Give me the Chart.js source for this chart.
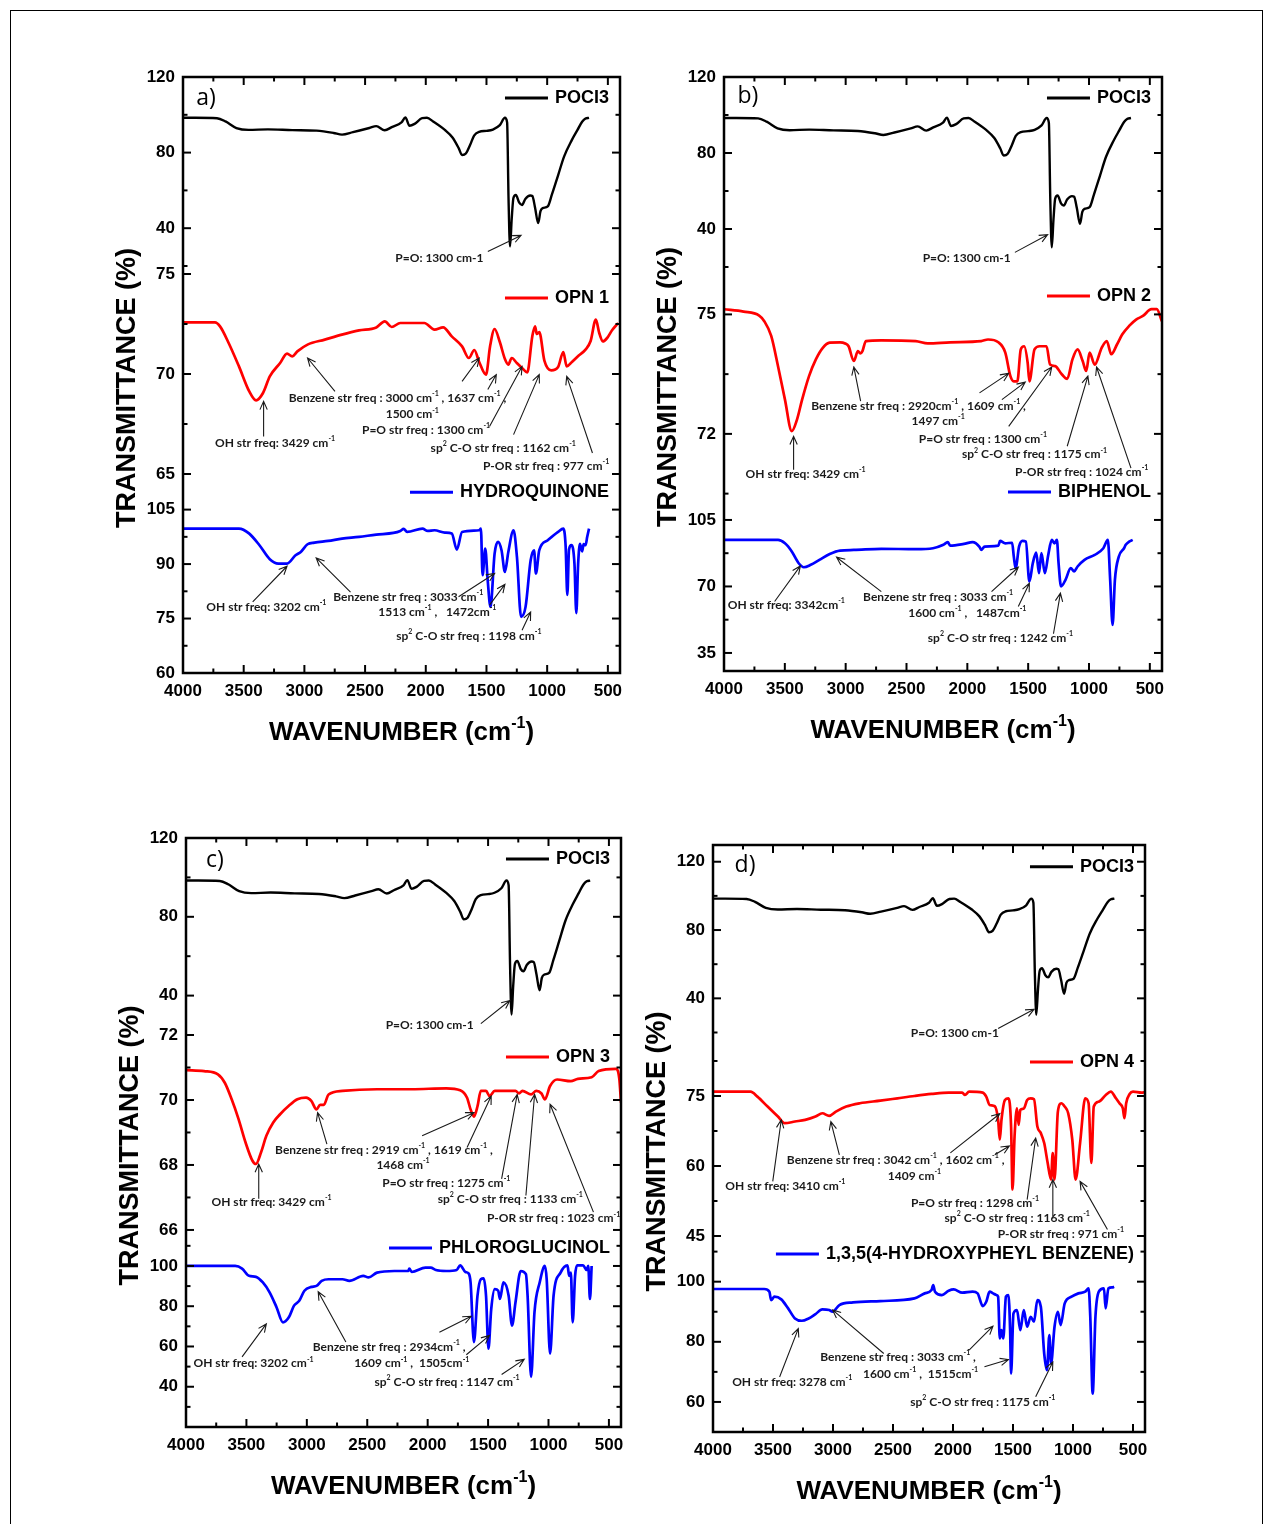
<!DOCTYPE html>
<html lang="en">
<head>
<meta charset="UTF-8">
<title>FTIR spectra of OPN 1-4</title>
<script src="https://cdn.jsdelivr.net/npm/chart.js"></script>
<style>
  body { margin: 0; background: #fff; overflow: hidden; }
  #frame { position: absolute; left: 10px; top: 10px; width: 1253px; height: 1530px; border: 1.5px solid #000; box-sizing: border-box; }
  canvas { position: absolute; }
</style>
</head>
<body>
<div id="frame"></div>
<canvas id="pa"></canvas>
<canvas id="pb"></canvas>
<canvas id="pc"></canvas>
<canvas id="pd"></canvas>
<script>
// wavenumber (cm-1) tick labels
const X_TICKS = [4000, 3500, 3000, 2500, 2000, 1500, 1000, 500];

// [wavenumber, transmittance %]
const POCL3 = [[4000,98.4],[3900,98.4],[3720,98.2],[3650,96.5],[3560,93],[3460,92],[3300,92.3],[3100,91.9],[2900,91.6],[2760,90.4],[2690,89.5],[2600,90.8],[2465,93],[2408,94],[2338,91.8],[2280,93.5],[2200,96],[2168,98.6],[2134,94.2],[2092,95.2],[2030,98.2],[1990,98.4],[1940,96.5],[1843,92],[1780,88],[1730,82.5],[1701,78.7],[1670,79.5],[1635,84],[1602,89],[1560,91],[1500,91.5],[1447,92.2],[1390,94.5],[1348,98.4],[1330,96],[1318,55],[1306,30.4],[1292,45],[1278,56],[1258,57.6],[1230,53.5],[1207,52.3],[1180,55.5],[1140,57.3],[1122,57],[1100,51],[1074,42.7],[1055,49],[1037,50.6],[995,51.5],[960,58],[910,68],[860,78],[797,86.6],[750,92],[712,96.3],[684,98],[655,98.4]];

const OPN1 = [[4000,72.58],[3737,72.58],[3695,72.38],[3624,71.55],[3539,70.38],[3454,69.13],[3398,68.68],[3341,69.05],[3285,69.88],[3200,70.55],[3143,71.02],[3100,70.88],[3058,71.13],[2974,71.47],[2832,71.72],[2691,71.97],[2550,72.18],[2408,72.33],[2338,72.63],[2281,72.35],[2210,72.55],[2012,72.55],[1928,72.22],[1857,72.33],[1786,71.88],[1701,71.38],[1645,70.8],[1600,71.2],[1560,70.6],[1504,69.97],[1470,71.4],[1433,72.25],[1390,71.6],[1348,70.75],[1320,70.47],[1292,70.8],[1250,70.55],[1207,70.3],[1164,70.08],[1122,71.9],[1100,72.38],[1085,72.0],[1065,72.1],[1023,70.67],[966,70.18],[910,70.35],[867,71.1],[839,70.38],[796,70.6],[740,70.92],[684,71.22],[642,71.65],[599,72.72],[571,72.05],[542,71.63],[506,71.8],[464,72.2],[415,72.55]];

const HYDROQUINONE = [[4000,99.77],[3539,99.77],[3454,98.39],[3370,95.18],[3285,91.33],[3214,90.14],[3143,90.14],[3073,92.43],[3030,93.35],[2974,95.46],[2917,95.92],[2804,96.38],[2690,97.02],[2550,97.48],[2408,98.12],[2267,98.58],[2210,99.13],[2182,99.68],[2154,98.85],[2027,99.77],[1984,99.13],[1928,99.31],[1843,98.67],[1786,98.39],[1744,93.99],[1701,98.85],[1560,99.31],[1546,99.77],[1532,86.93],[1510,94.27],[1490,85.55],[1467,78.21],[1433,92.89],[1405,96.1],[1376,93.81],[1348,87.84],[1320,93.35],[1277,99.31],[1249,91.97],[1215,75.46],[1178,78.21],[1136,91.06],[1108,93.81],[1093,87.39],[1065,93.81],[995,96.56],[910,98.85],[867,99.77],[848,95],[834,81.5],[820,94],[800,95.2],[775,90],[760,76.5],[745,90],[730,95.6],[712,93.5],[700,95.5],[684,95.2],[670,97.5],[655,99.77]];

const OPN2 = [[4000,75.13],[3839,75.07],[3711,74.97],[3669,74.83],[3612,74.46],[3556,73.7],[3499,72.86],[3443,72.07],[3400,72.36],[3358,72.86],[3301,73.45],[3245,73.87],[3188,74.16],[3131,74.29],[3046,74.3],[3004,74.27],[2976,74.2],[2933,73.83],[2899,74.08],[2880,74.02],[2862,74.08],[2834,74.33],[2707,74.35],[2424,74.33],[2325,74.27],[2141,74.3],[1886,74.33],[1830,74.37],[1745,74.3],[1688,74.04],[1646,73.45],[1618,73.32],[1589,73.32],[1561,74.12],[1533,74.2],[1504,73.78],[1490,73.32],[1448,74.12],[1405,74.2],[1349,74.2],[1320,73.74],[1278,73.7],[1222,73.49],[1179,73.38],[1136,73.87],[1094,74.12],[1052,73.83],[1023,73.58],[995,74.04],[953,73.74],[896,74.16],[854,74.33],[817,74.0],[769,74.25],[726,74.5],[670,74.71],[613,74.87],[557,74.96],[486,75.13],[443,75.13],[401,74.83]];

const BIPHENOL = [[4000,94.5],[3556,94.5],[3499,92.7],[3443,88.4],[3386,82.2],[3344,80.1],[3287,81.4],[3216,84],[3131,87.1],[3046,88.9],[2933,89.2],[2707,89.8],[2424,89.6],[2282,90.1],[2197,91.9],[2161,93.3],[2141,91.5],[2028,92.4],[1957,93.3],[1900,90.8],[1886,89.2],[1858,91],[1745,91.5],[1731,94],[1688,92.7],[1632,93],[1618,85.7],[1603,79.6],[1575,91],[1547,94],[1519,93.6],[1490,72.6],[1462,82.2],[1434,87.8],[1411,77],[1391,87.5],[1363,77],[1335,86.6],[1306,94.5],[1284,92.7],[1264,94.5],[1250,82.2],[1230,70],[1193,73.5],[1150,79.6],[1122,77.9],[1094,80.5],[1037,84],[953,86.6],[882,90.1],[845,94.5],[826,73.5],[806,49.8],[787,73.5],[755,85.7],[712,90.1],[698,91.9],[670,93.6],[641,94.5]];

const OPN3 = [[4000,70.92],[3851,70.89],[3736,70.79],[3679,70.53],[3622,70.02],[3565,69.41],[3507,68.69],[3450,68.13],[3421,68.03],[3378,68.4],[3335,68.9],[3278,69.31],[3221,69.56],[3149,69.82],[3078,70.02],[3006,70.07],[2963,69.97],[2920,69.71],[2890,69.85],[2860,69.85],[2820,70.17],[2705,70.28],[2419,70.33],[2132,70.33],[1846,70.36],[1731,70.3],[1674,70.07],[1645,69.71],[1617,69.49],[1588,69.8],[1560,70.28],[1517,70.28],[1488,70.12],[1445,70.28],[1273,70.28],[1244,70.2],[1216,70.28],[1144,70.17],[1101,70.28],[1058,70.2],[1030,70.02],[987,70.43],[929,70.63],[815,70.58],[757,70.65],[643,70.7],[585,70.89],[442,70.96],[414,70.65],[400,69.92]];

const PHLOROGLUCINOL = [[4000,100],[3593,100],[3536,98.7],[3479,95.1],[3421,94.6],[3364,91.8],[3307,86.8],[3250,79.4],[3198,72],[3149,74.5],[3106,80.3],[3063,82.7],[3020,87.7],[2963,89.6],[2920,90.1],[2877,92.6],[2820,93.4],[2705,93.4],[2648,92.6],[2533,95.1],[2490,94.3],[2419,96.7],[2276,97.5],[2161,97.5],[2152,98.7],[2132,97],[2018,99.2],[1975,99.2],[1932,98],[1846,97.5],[1760,98],[1731,100.3],[1688,97],[1660,96.2],[1645,91.8],[1617,62.2],[1588,85],[1560,93.4],[1537,93.8],[1517,85.2],[1497,58.9],[1474,78.6],[1445,88.5],[1416,87.7],[1402,83.6],[1373,91.8],[1330,85.2],[1302,70.4],[1273,82],[1230,97.5],[1187,95.9],[1173,85.2],[1144,44.9],[1116,77],[1073,91.8],[1030,100],[1015,93.4],[987,56.4],[958,85.2],[900,96.7],[843,100.3],[829,95.1],[815,96.7],[800,72],[780,95.1],[763,100.3],[714,100.3],[685,98],[671,100],[657,83.6],[643,100]];

const OPN4 = [[4000,75.92],[3687,75.92],[3630,74.86],[3545,72.73],[3459,70.59],[3402,69.17],[3317,69.53],[3232,69.88],[3146,70.59],[3089,71.3],[3032,70.74],[2976,71.66],[2890,72.73],[2776,73.44],[2606,74],[2463,74.5],[2321,75],[2179,75.43],[2036,75.71],[1923,75.71],[1900,75.21],[1866,75.92],[1752,75.71],[1723,74.86],[1695,73.08],[1652,72.8],[1624,69.88],[1610,65.62],[1596,69.9],[1567,74.15],[1538,74.5],[1516,68.46],[1504,54.96],[1487,66.33],[1467,72.37],[1453,68.82],[1439,72.01],[1410,72.3],[1382,74.15],[1353,74.5],[1325,74.29],[1297,68.46],[1268,67.04],[1240,64.91],[1211,60.64],[1183,57.09],[1169,62.78],[1154,57.09],[1126,71.66],[1097,73.44],[1069,72.73],[1040,71.3],[1006,65.62],[978,57.09],[941,64.91],[898,74.5],[870,73.44],[847,60.64],[827,72.73],[784,73.79],[727,75.21],[685,75.92],[642,74.5],[613,73.44],[585,72.37],[571,70.24],[557,73.44],[528,75.43],[500,75.92],[429,75.71],[400,75.8]];

const TRIS_HPB = [[4000,97.56],[3573,97.56],[3530,96.67],[3516,93.89],[3488,95],[3431,94.11],[3374,91.11],[3317,87.78],[3260,87],[3203,87.78],[3146,89.22],[3089,90.78],[3032,90.56],[3004,90],[2947,92.22],[2833,93.11],[2606,93.56],[2321,94.44],[2236,96.11],[2179,97.22],[2165,98.89],[2150,96.67],[2093,95.56],[2036,97],[1994,97.44],[1923,96.33],[1837,96.67],[1795,96.11],[1752,91.89],[1723,93.33],[1695,96.67],[1666,96.11],[1638,95.56],[1624,95],[1610,81.11],[1596,83.89],[1581,81.11],[1559,95],[1538,95.56],[1524,83.89],[1516,69.44],[1496,89.44],[1467,90.56],[1439,83.89],[1410,90.56],[1382,85],[1353,88.33],[1325,86.67],[1297,93.89],[1268,91.67],[1240,76.11],[1217,70.56],[1197,82.22],[1183,72.78],[1154,85],[1126,90],[1103,85.56],[1069,92.78],[1012,95],[955,96.11],[898,96.67],[870,97.78],[856,88.33],[836,62.78],[813,88.33],[785,96.67],[742,97.78],[728,91.11],[705,97.78],[671,98.11],[657,98.33]];

const TICK_FONT = { family: "'Liberation Sans', Arial, sans-serif", weight: 'bold', size: 17 };
const AXIS_FAMILY = "'Liberation Sans', Arial, sans-serif";
const NOTE_FAMILY = "Lato, 'Open Sans', sans-serif";

// axis ids: yk = POCl3 (top), yr = OPN (middle), yb = phenol (bottom)
const panels = [
  {
    id: 'pa', area: [183, 77, 620, 673], letter: ['a)', 3810, 108.4],
    axes: [
      { id: 'yk', min: 20, max: 120, w: 189, ticks: [40, 80, 120] },
      { id: 'yr', min: 64.2, max: 75.4, w: 224, ticks: [65, 70, 75] },
      { id: 'yb', min: 60, max: 110.4, w: 183, ticks: [60, 75, 90, 105] }
    ],
    series: [
      { ax: 'yk', data: POCL3, color: '#000', label: 'POCI3', ly: 108.9 },
      { ax: 'yr', data: OPN1, color: '#ff0000', label: 'OPN 1', ly: 73.8 },
      { ax: 'yb', data: HYDROQUINONE, color: '#0000ff', label: 'HYDROQUINONE', ly: 109.8 }
    ],
    notes: [
      { ax: 'yk', x: 1888, y: 24.2, t: 'P=O: 1300 cm-1' },
      { ax: 'yr', x: 2233, y: 68.8, t: 'Benzene str freq : 3000 cm^{-1} , 1637 cm^{-1} ,' },
      { ax: 'yr', x: 2111, y: 67.97, t: '1500 cm^{-1}' },
      { ax: 'yr', x: 3242, y: 66.55, t: 'OH str freq: 3429 cm^{-1}' },
      { ax: 'yr', x: 1998, y: 67.18, t: 'P=O str freq : 1300 cm^{-1}' },
      { ax: 'yr', x: 1362, y: 66.3, t: 'sp^{2} C-O str freq : 1162 cm^{-1}' },
      { ax: 'yr', x: 1009, y: 65.38, t: 'P-OR str freq : 977 cm^{-1}' },
      { ax: 'yb', x: 3313, y: 78.2, t: 'OH str freq: 3202 cm^{-1}' },
      { ax: 'yb', x: 2145, y: 81, t: 'Benzene str freq : 3033 cm^{-1}' },
      { ax: 'yb', x: 1905, y: 76.8, t: '1513 cm^{-1} ,   1472cm^{-1}' },
      { ax: 'yb', x: 1645, y: 70.1, t: 'sp^{2} C-O str freq : 1198 cm^{-1}' }
    ],
    arrows: [
      { ax: 'yk', from: [1489, 27.7], to: [1215, 36.2] },
      { ax: 'yr', from: [3336, 66.88], to: [3336, 68.63] },
      { ax: 'yr', from: [2748, 69.13], to: [2974, 70.8] },
      { ax: 'yr', from: [1701, 69.63], to: [1560, 70.8] },
      { ax: 'yr', from: [1489, 69.22], to: [1419, 69.97] },
      { ax: 'yr', from: [1475, 67.38], to: [1207, 70.38] },
      { ax: 'yr', from: [1277, 66.97], to: [1065, 69.97] },
      { ax: 'yr', from: [627, 66.05], to: [839, 69.88] },
      { ax: 'yb', from: [3426, 79.6], to: [3143, 89.4] },
      { ax: 'yb', from: [2620, 82.3], to: [2903, 91.7] },
      { ax: 'yb', from: [1730, 81], to: [1433, 87.4] },
      { ax: 'yb', from: [1475, 78.7], to: [1348, 84.4] },
      { ax: 'yb', from: [1207, 71.8], to: [1136, 76.8] }
    ]
  },
  {
    id: 'pb', area: [724, 77, 1162, 671], letter: ['b)', 3803, 109.5],
    axes: [
      { id: 'yk', min: 20, max: 120, w: 190, ticks: [40, 80, 120] },
      { id: 'yr', min: 70.34, max: 76.19, w: 233, ticks: [72, 75] },
      { id: 'yb', min: 25.5, max: 115.5, w: 171, ticks: [35, 70, 105] }
    ],
    series: [
      { ax: 'yk', data: POCL3, color: '#000', label: 'POCI3', ly: 108.9 },
      { ax: 'yr', data: OPN2, color: '#ff0000', label: 'OPN 2', ly: 75.46 },
      { ax: 'yr', data: null, color: '#0000ff', label: 'BIPHENOL', ly: 70.54 },
      { ax: 'yb', data: BIPHENOL, color: '#0000ff', label: null }
    ],
    notes: [
      { ax: 'yk', x: 2005, y: 24.9, t: 'P=O: 1300 cm-1' },
      { ax: 'yr', x: 2401, y: 72.69, t: 'Benzene str freq : 2920cm^{-1} , 1609 cm^{-1} ,' },
      { ax: 'yr', x: 2240, y: 72.32, t: '1497 cm^{-1}' },
      { ax: 'yr', x: 3329, y: 71.0, t: 'OH str freq: 3429 cm^{-1}' },
      { ax: 'yr', x: 1872, y: 71.86, t: 'P=O str freq : 1300 cm^{-1}' },
      { ax: 'yr', x: 1448, y: 71.48, t: 'sp^{2} C-O str freq : 1175 cm^{-1}' },
      { ax: 'yr', x: 1060, y: 71.04, t: 'P-OR str freq : 1024 cm^{-1}' },
      { ax: 'yb', x: 3488, y: 60.0, t: 'OH str freq: 3342cm^{-1}' },
      { ax: 'yb', x: 2240, y: 64.4, t: 'Benzene str freq : 3033 cm^{-1}' },
      { ax: 'yb', x: 2000, y: 56, t: '1600 cm^{-1} ,   1487cm^{-1}' },
      { ax: 'yb', x: 1728, y: 42.8, t: 'sp^{2} C-O str freq : 1242 cm^{-1}' }
    ],
    arrows: [
      { ax: 'yk', from: [1609, 27.7], to: [1340, 37] },
      { ax: 'yr', from: [3428, 71.1], to: [3428, 71.94] },
      { ax: 'yr', from: [2877, 72.82], to: [2933, 73.68] },
      { ax: 'yr', from: [1900, 73.03], to: [1660, 73.52] },
      { ax: 'yr', from: [1716, 72.86], to: [1524, 73.3] },
      { ax: 'yr', from: [1660, 72.19], to: [1306, 73.68] },
      { ax: 'yr', from: [1179, 71.69], to: [1009, 73.45] },
      { ax: 'yr', from: [655, 71.14], to: [938, 73.68] },
      { ax: 'yb', from: [3584, 62.1], to: [3372, 80.8] },
      { ax: 'yb', from: [2707, 67.3], to: [3075, 85.4] },
      { ax: 'yb', from: [1801, 67.3], to: [1581, 80.1] },
      { ax: 'yb', from: [1581, 59.5], to: [1490, 71.7] },
      { ax: 'yb', from: [1292, 45.1], to: [1235, 66.5] }
    ]
  },
  {
    id: 'pc', area: [186, 838, 621, 1427], letter: ['c)', 3760, 108.8],
    axes: [
      { id: 'yk', min: 20, max: 120, w: 197, ticks: [40, 80, 120] },
      { id: 'yr', min: 65.66, max: 72, w: 206, ticks: [66, 68, 70, 72] },
      { id: 'yb', min: 20, max: 112.4, w: 186, ticks: [40, 60, 80, 100] }
    ],
    series: [
      { ax: 'yk', data: POCL3, color: '#000', label: 'POCI3', ly: 109.3 },
      { ax: 'yr', data: OPN3, color: '#ff0000', label: 'OPN 3', ly: 71.32 },
      { ax: 'yb', data: PHLOROGLUCINOL, color: '#0000ff', label: 'PHLOROGLUCINOL', ly: 108.9 }
    ],
    notes: [
      { ax: 'yr', x: 1983, y: 72.3, t: 'P=O: 1300 cm-1' },
      { ax: 'yr', x: 2362, y: 68.47, t: 'Benzene str freq : 2919 cm^{-1} , 1619 cm^{-1} ,' },
      { ax: 'yr', x: 2204, y: 68.0, t: '1468 cm^{-1}' },
      { ax: 'yr', x: 3292, y: 66.86, t: 'OH str freq: 3429 cm^{-1}' },
      { ax: 'yr', x: 1846, y: 67.45, t: 'P=O str freq : 1275 cm^{-1}' },
      { ax: 'yr', x: 1316, y: 66.94, t: 'sp^{2} C-O str freq : 1133 cm^{-1}' },
      { ax: 'yr', x: 958, y: 66.35, t: 'P-OR str freq : 1023 cm^{-1}' },
      { ax: 'yb', x: 3441, y: 51.5, t: 'OH str freq: 3202 cm^{-1}' },
      { ax: 'yb', x: 2319, y: 59.7, t: 'Benzene str freq : 2934cm^{-1} ,' },
      { ax: 'yb', x: 2132, y: 51.5, t: '1609 cm^{-1} ,  1505cm^{-1}' },
      { ax: 'yb', x: 1840, y: 42.4, t: 'sp^{2} C-O str freq : 1147 cm^{-1}' }
    ],
    arrows: [
      { ax: 'yr', from: [1560, 72.35], to: [1320, 37.5], axTo: 'yk' },
      { ax: 'yr', from: [3398, 66.96], to: [3398, 68.03] },
      { ax: 'yr', from: [2834, 68.64], to: [2911, 69.61] },
      { ax: 'yr', from: [2046, 68.9], to: [1617, 69.61] },
      { ax: 'yr', from: [1674, 68.54], to: [1474, 70.12] },
      { ax: 'yr', from: [1388, 67.57], to: [1259, 70.17] },
      { ax: 'yr', from: [1187, 67.06], to: [1115, 70.17] },
      { ax: 'yr', from: [628, 66.55], to: [987, 69.87] },
      { ax: 'yb', from: [3536, 54.8], to: [3335, 71.2] },
      { ax: 'yb', from: [2677, 62.2], to: [2906, 87.2] },
      { ax: 'yb', from: [1903, 67.1], to: [1640, 75] },
      { ax: 'yb', from: [1680, 55.9], to: [1488, 65.5] },
      { ax: 'yb', from: [1388, 46.1], to: [1201, 53.6] }
    ]
  },
  {
    id: 'pd', area: [713, 845, 1145, 1432], letter: ['d)', 3733, 117.7],
    axes: [
      { id: 'yk', min: 20, max: 129.8, w: 187.5, ticks: [40, 80, 120] },
      { id: 'yr', min: 43.07, max: 88.6, w: 212.5, ticks: [45, 60, 75] },
      { id: 'yb', min: 50, max: 112.2, w: 187, ticks: [60, 80, 100] }
    ],
    series: [
      { ax: 'yk', data: POCL3, color: '#000', label: 'POCI3', ly: 117.1 },
      { ax: 'yr', data: OPN4, color: '#ff0000', label: 'OPN 4', ly: 82.3 },
      { ax: 'yb', data: TRIS_HPB, color: '#0000ff', label: '1,3,5(4-HYDROXYPHEYL BENZENE)', ly: 109.2 }
    ],
    notes: [
      { ax: 'yk', x: 1985, y: 19.5, t: 'P=O: 1300 cm-1' },
      { ax: 'yr', x: 2478, y: 61.2, t: 'Benzene str freq : 3042 cm^{-1} , 1602 cm^{-1} ,' },
      { ax: 'yr', x: 2321, y: 57.8, t: '1409 cm^{-1}' },
      { ax: 'yr', x: 3397, y: 55.7, t: 'OH str freq: 3410 cm^{-1}' },
      { ax: 'yr', x: 1817, y: 52.1, t: 'P=O str freq : 1298 cm^{-1}' },
      { ax: 'yr', x: 1465, y: 48.9, t: 'sp^{2} C-O str freq : 1163 cm^{-1}' },
      { ax: 'yr', x: 1101, y: 45.4, t: 'P-OR str freq : 971 cm^{-1}' },
      { ax: 'yb', x: 3340, y: 66.7, t: 'OH str freq: 3278 cm^{-1}' },
      { ax: 'yb', x: 2458, y: 74.8, t: 'Benzene str freq : 3033 cm^{-1} ,' },
      { ax: 'yb', x: 2270, y: 69.4, t: '1600 cm^{-1} ,  1515cm^{-1}' },
      { ax: 'yb', x: 1752, y: 60, t: 'sp^{2} C-O str freq : 1175 cm^{-1}' }
    ],
    arrows: [
      { ax: 'yk', from: [1624, 22.4], to: [1325, 33.6] },
      { ax: 'yr', from: [3502, 56.7], to: [3431, 69.9] },
      { ax: 'yr', from: [2947, 62.4], to: [3018, 69.5] },
      { ax: 'yr', from: [2022, 62.8], to: [1610, 71.2] },
      { ax: 'yr', from: [1652, 62.4], to: [1530, 64.3] },
      { ax: 'yr', from: [1382, 52.8], to: [1311, 66] },
      { ax: 'yr', from: [1168, 49.3], to: [1168, 57.1] },
      { ax: 'yr', from: [713, 46.4], to: [941, 56.7] },
      { ax: 'yb', from: [3445, 68.3], to: [3289, 84.4] },
      { ax: 'yb', from: [2577, 76.1], to: [3004, 90.6] },
      { ax: 'yb', from: [1866, 77.2], to: [1667, 85.2] },
      { ax: 'yb', from: [1738, 71.7], to: [1538, 74.1] },
      { ax: 'yb', from: [1311, 61.7], to: [1168, 73.3] }
    ]
  }
];

const PAD = { left: 92, top: 26, right: 26, bottom: 100 };

function drawRich(ctx, str, x, y, size, weight, family, align) {
  const parts = str.split(/(\^\{[^}]*\})/).filter(Boolean).map(seg => {
    const m = seg.match(/^\^\{(.*)\}$/);
    return m ? { s: m[1], sup: true } : { s: seg, sup: false };
  });
  const font = sup => weight + ' ' + (sup ? Math.round(size * 0.62) : size) + 'px ' + family;
  let total = 0;
  parts.forEach(pt => { ctx.font = font(pt.sup); pt.w = ctx.measureText(pt.s).width; total += pt.w; });
  let cx = align === 'center' ? x - total / 2 : align === 'right' ? x - total : x;
  ctx.textAlign = 'left';
  ctx.textBaseline = 'middle';
  parts.forEach(pt => {
    ctx.font = font(pt.sup);
    ctx.fillText(pt.s, cx, pt.sup ? y - size * 0.36 : y);
    cx += pt.w;
  });
  return total;
}

function arrow(ctx, x1, y1, x2, y2) {
  const ang = Math.atan2(y2 - y1, x2 - x1), hl = 9, spread = 0.42;
  ctx.beginPath();
  ctx.moveTo(x1, y1);
  ctx.lineTo(x2, y2);
  ctx.moveTo(x2 - hl * Math.cos(ang - spread), y2 - hl * Math.sin(ang - spread));
  ctx.lineTo(x2, y2);
  ctx.lineTo(x2 - hl * Math.cos(ang + spread), y2 - hl * Math.sin(ang + spread));
  ctx.stroke();
}

function line(ctx, x1, y1, x2, y2) {
  ctx.beginPath(); ctx.moveTo(x1, y1); ctx.lineTo(x2, y2); ctx.stroke();
}

function panelPlugin(p) {
  return {
    id: 'decor_' + p.id,
    afterDatasetsDraw(chart) {
      const ctx = chart.ctx, ca = chart.chartArea, sx = chart.scales.x;
      ctx.save();
      ctx.strokeStyle = '#000';
      ctx.fillStyle = '#000';
      ctx.lineCap = 'butt';

      // inward ticks
      ctx.lineWidth = 2;
      for (let v = 4000; v >= 500; v -= 250) {
        const px = sx.getPixelForValue(v), len = v % 500 === 0 ? 8 : 4.5;
        line(ctx, px, ca.bottom, px, ca.bottom - len);
        line(ctx, px, ca.top, px, ca.top + len);
      }
      p.axes.forEach(a => {
        const s = chart.scales[a.id];
        const half = (a.ticks[1] - a.ticks[0]) / 2;
        let v = a.ticks[0] - Math.floor((a.ticks[0] - a.min) / half + 1e-6) * half;
        for (; v <= a.max + 1e-6; v += half) {
          const py = s.getPixelForValue(v);
          const major = a.ticks.some(t => Math.abs(t - v) < 1e-6);
          const len = major ? 8 : 4.5;
          line(ctx, ca.left, py, ca.left + len, py);
          line(ctx, ca.right, py, ca.right - len, py);
        }
      });

      // frame
      ctx.lineWidth = 2.5;
      ctx.strokeRect(ca.left, ca.top, ca.right - ca.left, ca.bottom - ca.top);

      // legends
      p.series.forEach(s => {
        if (!s.label) return;
        const py = chart.scales[s.ax].getPixelForValue(s.ly);
        ctx.fillStyle = '#000';
        const w = drawRich(ctx, s.label, ca.right - 11, py, 18, 'bold', AXIS_FAMILY, 'right');
        const x0 = ca.right - 11 - w - 7;
        ctx.strokeStyle = s.color;
        ctx.lineWidth = 3;
        line(ctx, x0 - 43, py, x0, py);
      });

      // notes and arrows
      ctx.fillStyle = '#1a1a1a';
      p.notes.forEach(n => {
        drawRich(ctx, n.t, sx.getPixelForValue(n.x), chart.scales[n.ax].getPixelForValue(n.y), 12, 'bold', NOTE_FAMILY, 'center');
      });
      ctx.strokeStyle = '#1a1a1a';
      ctx.lineWidth = 1.1;
      p.arrows.forEach(a => {
        const s1 = chart.scales[a.ax], s2 = chart.scales[a.axTo || a.ax];
        arrow(ctx, sx.getPixelForValue(a.from[0]), s1.getPixelForValue(a.from[1]),
                   sx.getPixelForValue(a.to[0]), s2.getPixelForValue(a.to[1]));
      });

      // panel letter
      ctx.fillStyle = '#000';
      drawRich(ctx, p.letter[0], sx.getPixelForValue(p.letter[1]), chart.scales.yk.getPixelForValue(p.letter[2]), 23, 'normal', "'Open Sans', sans-serif", 'center');

      // axis titles
      drawRich(ctx, 'WAVENUMBER (cm^{-1})', (ca.left + ca.right) / 2, ca.bottom + 60, 26, 'bold', AXIS_FAMILY, 'center');
      ctx.save();
      ctx.translate(ca.left - 55, (ca.top + ca.bottom) / 2 + 13);
      ctx.rotate(-Math.PI / 2);
      drawRich(ctx, 'TRANSMITTANCE (%)', 0, 0, 27, 'bold', AXIS_FAMILY, 'center');
      ctx.restore();

      ctx.restore();
    }
  };
}

function makePanel(p) {
  const cv = document.getElementById(p.id);
  const [L, T, R, B] = p.area;
  cv.width = R - L + PAD.left + PAD.right;
  cv.height = B - T + PAD.top + PAD.bottom;
  cv.style.left = (L - PAD.left) + 'px';
  cv.style.top = (T - PAD.top) + 'px';

  const scales = {
    x: {
      type: 'linear', position: 'bottom', reverse: true, min: 400, max: 4000,
      afterBuildTicks: s => { s.ticks = X_TICKS.map(v => ({ value: v })); },
      afterFit: s => { s.height = PAD.bottom; },
      grid: { display: false, drawTicks: false },
      border: { display: false },
      ticks: { color: '#000', font: TICK_FONT, padding: 8, autoSkip: false, maxRotation: 0, callback: v => String(v) }
    }
  };
  p.axes.forEach((a, i) => {
    scales[a.id] = {
      type: 'linear', axis: 'y', position: 'left', stack: 'spectra', stackWeight: a.w, weight: p.axes.length - i,
      min: a.min, max: a.max,
      afterBuildTicks: s => { s.ticks = a.ticks.map(v => ({ value: v })); },
      afterFit: s => { s.width = PAD.left; },
      grid: { display: false, drawTicks: false },
      border: { display: false },
      ticks: { color: '#000', font: TICK_FONT, padding: 8, autoSkip: false, callback: v => String(v) }
    };
  });

  const datasets = p.series.filter(s => s.data).map(s => ({
    label: s.label || '',
    data: s.data.map(([x, y]) => ({ x, y })),
    xAxisID: 'x',
    yAxisID: s.ax,
    borderColor: s.color,
    borderWidth: s.color === '#000' ? 2.4 : 2.7,
    pointRadius: 0,
    fill: false,
    cubicInterpolationMode: 'monotone'
  }));

  new Chart(cv, {
    type: 'line',
    data: { datasets },
    options: {
      responsive: false,
      animation: false,
      layout: { padding: { left: 0, top: PAD.top, right: PAD.right, bottom: 0 } },
      plugins: { legend: { display: false }, tooltip: { enabled: false } },
      scales
    },
    plugins: [panelPlugin(p)]
  });
}

panels.forEach(makePanel);
</script>
</body>
</html>
